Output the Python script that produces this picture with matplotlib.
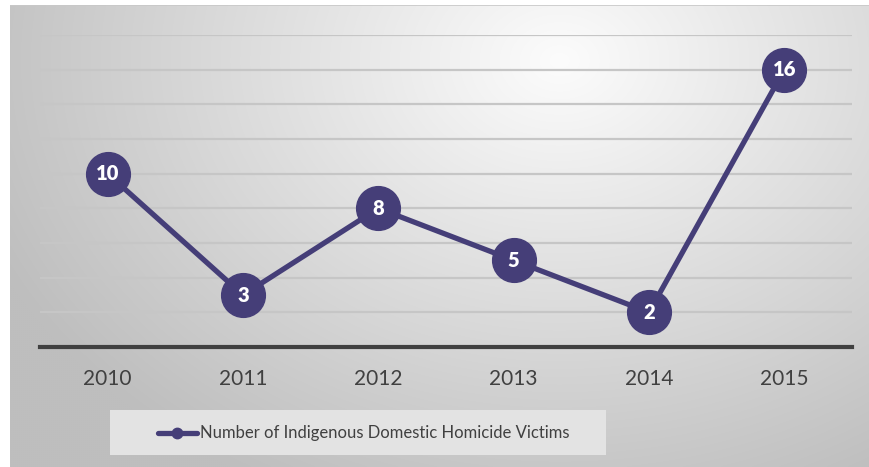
import numpy as np
import matplotlib.pyplot as plt
from matplotlib.lines import Line2D
from matplotlib.patches import Rectangle

years = ["2010", "2011", "2012", "2013", "2014", "2015"]
victims = [10, 3, 8, 5, 2, 16]
series_name = "Number of Indigenous Domestic Homicide Victims"
grid_values = [2, 4, 6, 8, 10, 12, 14, 16, 18]

W, H = 870, 467
LINE_COLOR = "#453e78"


def fx(px):
    return px / W


def fy(py):
    return 1 - py / H


def main():
    plt.rcParams['font.family'] = ['Lato', 'DejaVu Sans']
    fig = plt.figure(figsize=(W / 100, H / 100), dpi=100)
    fig.patch.set_facecolor("white")

    # radial gradient background panel
    bg = fig.add_axes([fx(10), 0, fx(860), (H - 5) / H])
    bg.axis('off')
    xx, yy = np.meshgrid(np.linspace(10, 870, 430), np.linspace(5, 467, 231))
    r = np.sqrt(((xx - 560) / 620) ** 2 + ((yy - 60) / 480) ** 2)
    r = np.clip(r, 0, 1)
    shade = 252 - 62 * r
    img = np.dstack([shade, shade, shade]) / 255.0
    bg.imshow(img, aspect='auto', extent=[0, 1, 0, 1], interpolation='bilinear')
    bg.set_xlim(0, 1)
    bg.set_ylim(0, 1)
    bg.plot([0, 1], [0.999, 0.999], color="#c8c8c8", lw=1.2)

    # main plot area
    ax = fig.add_axes([fx(40), fy(347), fx(812), (347 - 35) / H])
    ax.set_facecolor("none")
    x = np.arange(len(years))
    ax.set_xlim(-0.5, len(years) - 0.5)
    ax.set_ylim(0, 18)
    for v in grid_values:
        ax.axhline(v, color="#c6c6c6", lw=1.6, zorder=1)
    ax.axhline(0, color="#404040", lw=3, zorder=2, clip_on=False)
    for s in ax.spines.values():
        s.set_visible(False)
    ax.set_yticks([])
    ax.set_xticks(x)
    ax.set_xticklabels(years, fontsize=15, color="#404040")
    ax.tick_params(axis='x', length=0, pad=16)

    ax.plot(x, victims, color=LINE_COLOR, lw=3.8, marker='o', markersize=31.5,
            markerfacecolor=LINE_COLOR, markeredgecolor=LINE_COLOR,
            zorder=3, clip_on=False)
    for xi, v in zip(x, victims):
        ax.text(xi, v, str(v), color="white", fontsize=14.5, fontweight='heavy',
                ha='center', va='center', zorder=4)

    # legend
    fig.patches.append(Rectangle((fx(110), fy(455)), fx(496), 45 / H,
                                 transform=fig.transFigure,
                                 facecolor="#e3e3e3", edgecolor="none",
                                 zorder=1))
    fig.lines.append(Line2D([fx(158), fx(197)], [fy(433), fy(433)],
                            transform=fig.transFigure, color=LINE_COLOR,
                            lw=3.8, solid_capstyle='round', zorder=2))
    fig.lines.append(Line2D([fx(177)], [fy(433)], transform=fig.transFigure,
                            marker='o', markersize=7.5, color=LINE_COLOR,
                            zorder=3))
    fig.text(fx(200), fy(433), series_name, fontsize=12, color="#404040",
             ha='left', va='center', zorder=3)

    fig.savefig("out.png", dpi=100)


if __name__ == "__main__":
    main()
